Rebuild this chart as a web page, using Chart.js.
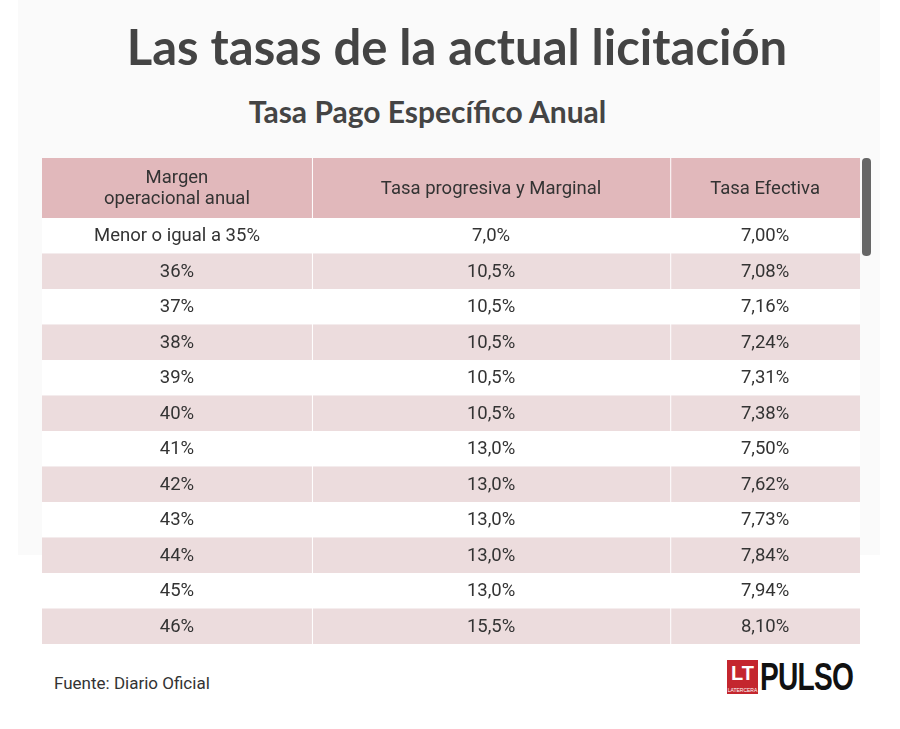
<!DOCTYPE html>
<html>
<head>
<meta charset="utf-8">
<script src="https://cdn.jsdelivr.net/npm/chart.js@4.4.1/dist/chart.umd.min.js"></script>
<style>
  body { margin: 0; width: 900px; height: 729px; background: #fff; font-family: Roboto, sans-serif; position: relative; overflow: hidden; }
  .panel { position: absolute; left: 18px; top: 0; width: 862px; height: 555px; background: #fafafa; }
  h1 { position: absolute; left: 0; width: 914px; top: 17px; margin: 0; text-align: center; font: bold 49px Lato, sans-serif; color: #444; }
  h2 { position: absolute; left: 0; width: 855px; top: 93px; margin: 0; text-align: center; font: bold 30px Lato, sans-serif; color: #444; }
  .wrap { position: absolute; left: 42px; top: 158px; width: 818px; height: 486px; }
  .scroll { position: absolute; left: 862px; top: 158px; width: 9px; height: 98px; background: #666; border-radius: 4px; }
  .src { position: absolute; left: 54px; top: 673px; font-size: 17px; color: #333; }
  .logo { position: absolute; left: 727px; top: 660px; height: 34px; display: flex; align-items: flex-end; }
  .lt { background: #c4262e; color: #fff; font: bold 20px 'Liberation Sans Narrow', Arial, sans-serif; width: 31px; height: 34px; text-align: center; line-height: 26px; position: relative; }
  .lt small { position: absolute; left: 0; bottom: 1px; width: 31px; font-size: 5px; line-height: 6px; font-weight: normal; }
  .pulso { font: bold 38px 'Liberation Sans Narrow', Arial, sans-serif; color: #111; line-height: 34px; margin-left: 2px; letter-spacing: -1px; transform: scaleX(0.74); transform-origin: left bottom; }
</style>
</head>
<body>
<div class="panel"></div>
<h1>Las tasas de la actual licitación</h1>
<h2>Tasa Pago Específico Anual</h2>
<div class="wrap"><canvas id="tbl"></canvas></div>
<div class="scroll"></div>
<div class="src">Fuente: Diario Oficial</div>
<div class="logo"><div class="lt">LT<small>LATERCERA</small></div><div class="pulso">PULSO</div></div>
<script>
// Table data
const headers = [['Margen', 'operacional anual'], ['Tasa progresiva y Marginal'], ['Tasa Efectiva']];
const margins = ['Menor o igual a 35%', '36%', '37%', '38%', '39%', '40%', '41%', '42%', '43%', '44%', '45%', '46%'];
const marginalRates = [7.0, 10.5, 10.5, 10.5, 10.5, 10.5, 13.0, 13.0, 13.0, 13.0, 13.0, 15.5];
const effectiveRates = [7.00, 7.08, 7.16, 7.24, 7.31, 7.38, 7.50, 7.62, 7.73, 7.84, 7.94, 8.10];
// column boundaries on the x scale (0..1)
const colEdges = [0, 0.33, 0.768, 1];

const fmt = (v, d) => v.toFixed(d).replace('.', ',') + '%';

const tablePlugin = {
  id: 'tablePlugin',
  beforeDatasetsDraw(chart) {
    const { ctx, scales: { x, y } } = chart;
    const xs = colEdges.map(e => x.getPixelForValue(e));
    const half = (y.getPixelForValue(1) - y.getPixelForValue(0)) / 2;
    const top = y.getPixelForValue(0) - half;
    ctx.save();
    // header
    ctx.fillStyle = '#e1b8bb';
    ctx.fillRect(xs[0], 0, xs[3] - xs[0], top);
    ctx.fillStyle = '#333';
    ctx.font = '18.5px Roboto, sans-serif';
    ctx.textAlign = 'center';
    ctx.textBaseline = 'middle';
    headers.forEach((lines, c) => {
      const cx = (xs[c] + xs[c + 1]) / 2;
      lines.forEach((t, i) => ctx.fillText(t, cx, top / 2 + 1 + (i - (lines.length - 1) / 2) * 21));
    });
    // rows
    ctx.font = '18.5px Roboto, sans-serif';
    margins.forEach((m, i) => {
      const cy = y.getPixelForValue(i);
      ctx.fillStyle = i % 2 ? '#ecdcdd' : '#ffffff';
      ctx.fillRect(xs[0], cy - half, xs[3] - xs[0], half * 2);
      ctx.fillStyle = '#333';
      const vals = [m, fmt(marginalRates[i], 1), fmt(effectiveRates[i], 2)];
      vals.forEach((t, c) => ctx.fillText(t, (xs[c] + xs[c + 1]) / 2, cy + 1));
    });
    // column dividers
    ctx.strokeStyle = '#ffffff';
    ctx.lineWidth = 1;
    [1, 2].forEach(c => {
      ctx.beginPath();
      ctx.moveTo(xs[c] + 0.5, 0);
      ctx.lineTo(xs[c] + 0.5, y.getPixelForValue(margins.length - 1) + half);
      ctx.stroke();
    });
    ctx.restore();
  }
};

new Chart(document.getElementById('tbl'), {
  type: 'bar',
  data: { labels: margins, datasets: [{ data: [], backgroundColor: 'transparent' }] },
  options: {
    indexAxis: 'y',
    responsive: true,
    maintainAspectRatio: false,
    animation: false,
    layout: { padding: { top: 60, left: 0, right: 0, bottom: 0 } },
    plugins: { legend: { display: false }, tooltip: { enabled: false } },
    scales: {
      x: { type: 'linear', min: 0, max: 1, display: false },
      y: { type: 'category', display: false, offset: true }
    }
  },
  plugins: [tablePlugin]
});
</script>
</body>
</html>
